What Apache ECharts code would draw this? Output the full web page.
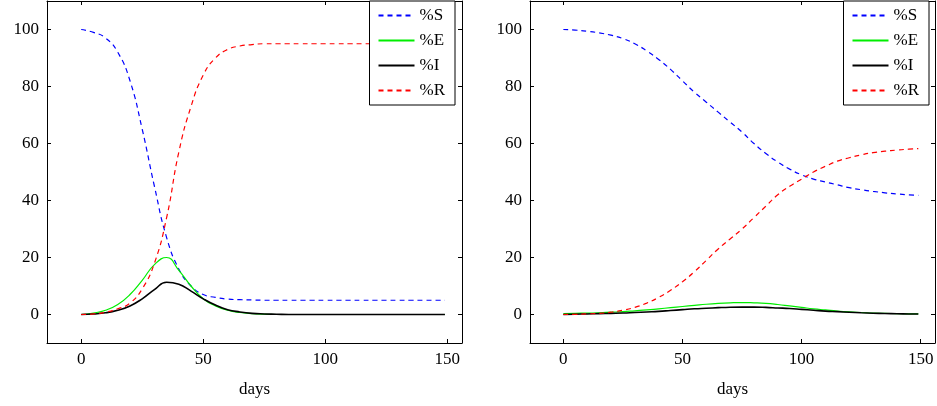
<!DOCTYPE html>
<html>
<head>
<meta charset="utf-8">
<script src="https://cdn.jsdelivr.net/npm/echarts@6/dist/echarts.min.js"></script>
<style>html,body{margin:0;padding:0;background:#fff}#chart{width:937px;height:406px}</style>
</head>
<body>
<div id="chart"></div>
<script>
const days = [0,5,10,15,20,25,30,35,40,45,50,55,60,65,70,75,80,85,90,95,100,105,110,115,120,125,130,135,140,145,149];
const xTicks = [0, 50, 100, 150];
const yTicks = [0, 20, 40, 60, 80, 100];

/* left panel */
const sA = [100,99,97,92,82,65,45,27,16,10,7,6,5.4,5.2,5.1,5,5,5,5,5,5,5,5,5,5,5,5,5,5,5,5];
const eA = [0,0.5,1.5,3.5,7,12,17.5,20,15.5,10,5.5,3,1.5,0.7,0.3,0.1,0,0,0,0,0,0,0,0,0,0,0,0,0,0,0];
const iA = [0,0.2,0.6,1.5,3,5.5,8.7,11.3,10.6,8.2,5.5,3.3,1.7,0.9,0.4,0.2,0.1,0,0,0,0,0,0,0,0,0,0,0,0,0,0];
const rA = [0,0.2,0.8,2,4,9,18,34,57,73,84,90,93,94.2,94.7,95,95,95,95,95,95,95,95,95,95,95,95,95,95,95,95];

/* right panel */
const sB = [100,99.8,99.4,98.8,98,96.8,95,92.5,89.5,86,82,78,74.5,71,67.5,64,60,56.5,53.5,51,49,47.5,46.5,45.5,44.5,43.8,43.2,42.7,42.3,42,41.8];
const eB = [0.3,0.4,0.5,0.6,0.8,1,1.3,1.6,2,2.4,2.8,3.2,3.6,3.9,4.1,4.2,4.1,3.9,3.5,3,2.5,2,1.6,1.2,0.9,0.7,0.5,0.4,0.3,0.25,0.2];
const iB = [0,0.1,0.2,0.3,0.4,0.5,0.7,0.9,1.1,1.4,1.7,2,2.2,2.4,2.55,2.6,2.6,2.5,2.3,2.1,1.8,1.5,1.2,1,0.8,0.6,0.45,0.35,0.25,0.2,0.15];
const rB = [0,0.05,0.2,0.4,0.8,1.5,2.5,4,6,8.5,11.5,15,19,23,26.5,30,34,38,42,45,47.5,50,52,53.8,55,56,56.8,57.3,57.7,58,58.2];

const FONT = 'Liberation Serif, serif';
const names = ['%S', '%E', '%I', '%R'];
const styles = [
    { color: '#0000ff', type: [5, 4] },
    { color: '#00ee00', type: 'solid' },
    { color: '#000000', type: 'solid' },
    { color: '#ff0000', type: [5, 4] }
];

function makeAxes(idx, withLabels) {
    const x = {
        type: 'value', gridIndex: idx, min: -14, max: 156,
        axisLine: { show: true, onZero: false, lineStyle: { color: '#000' } },
        axisTick: { show: true, inside: true, length: 4, customValues: xTicks, lineStyle: { color: '#000' } },
        axisLabel: { show: withLabels, customValues: xTicks, color: '#000', fontFamily: FONT, fontSize: 17, margin: 8 },
        splitLine: { show: false }
    };
    const y = {
        type: 'value', gridIndex: idx, min: -10, max: 110,
        axisLine: { show: true, onZero: false, lineStyle: { color: '#000' } },
        axisTick: { show: true, inside: true, length: 4, customValues: yTicks, lineStyle: { color: '#000' } },
        axisLabel: { show: withLabels, customValues: yTicks, color: '#000', fontFamily: FONT, fontSize: 17, margin: 8 },
        splitLine: { show: false }
    };
    if (withLabels) {
        x.name = 'days';
        x.nameLocation = 'middle';
        x.nameGap = 38;
        x.nameTextStyle = { color: '#000', fontFamily: FONT, fontSize: 17 };
    } else {
        x.position = 'top';
        y.position = 'right';
    }
    return { x, y };
}

const grids = [
    { left: 47, top: 1, width: 415, height: 342 },
    { left: 530, top: 1, width: 405, height: 342 }
];

const xAxes = [], yAxes = [];
[0, 1].forEach(function (g) {
    const a = makeAxes(g, true);
    const b = makeAxes(g, false);
    xAxes.push(a.x, b.x);
    yAxes.push(a.y, b.y);
});

const series = [];
[[sA, eA, iA, rA], [sB, eB, iB, rB]].forEach(function (set, g) {
    set.forEach(function (vals, k) {
        series.push({
            name: names[k], type: 'line', xAxisIndex: g * 2, yAxisIndex: g * 2,
            symbol: 'none', smooth: true, silent: true,
            data: days.map(function (d, j) { return [d, vals[j]]; }),
            lineStyle: { color: styles[k].color, type: styles[k].type, width: k === 2 ? 1.6 : 1.2 },
            itemStyle: { color: styles[k].color }
        });
    });
});

function makeLegend(right) {
    return {
        orient: 'vertical', right: right, top: 1,
        data: names, backgroundColor: '#fff',
        borderColor: '#000', borderWidth: 1, borderRadius: 0,
        padding: [6, 10, 6, 8], itemGap: 8, itemWidth: 36, itemHeight: 14,
        selectedMode: false,
        itemStyle: { opacity: 0 },
        textStyle: { color: '#000', fontFamily: FONT, fontSize: 17 }
    };
}

const chart = echarts.init(document.getElementById('chart'));
chart.setOption({
    animation: false,
    grid: grids,
    xAxis: xAxes,
    yAxis: yAxes,
    legend: [makeLegend(937 - 455), makeLegend(8)],
    series: series
});
</script>
</body>
</html>
